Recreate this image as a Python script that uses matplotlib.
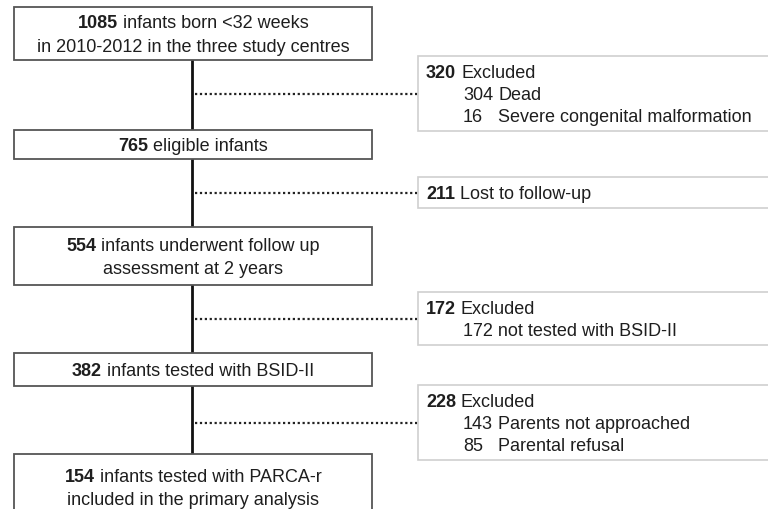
import matplotlib.pyplot as plt
from matplotlib.patches import Rectangle

plt.rcParams['font.family'] = ['Liberation Sans', 'DejaVu Sans']

# main flow boxes: bold count + rest of text (one list per line)
main_counts = [1085, 765, 554, 382, 154]
main_lines = [
    ["infants born <32 weeks", "in 2010-2012 in the three study centres"],
    ["eligible infants"],
    ["infants underwent follow up", "assessment at 2 years"],
    ["infants tested with BSID-II"],
    ["infants tested with PARCA-r", "included in the primary analysis"],
]

# side boxes: bold count, heading, sub-items (count, reason, in column?)
side_counts = [320, 211, 172, 228]
side_heads = ["Excluded", "Lost to follow-up", "Excluded", "Excluded"]
side_items = [
    [(304, "Dead", True), (16, "Severe congenital malformation", True)],
    [],
    [(172, "not tested with BSID-II", False)],
    [(143, "Parents not approached", True), (85, "Parental refusal", True)],
]

# layout (pixels)
main_x0, main_x1 = 14, 372
main_boxes = [(8, 61), (131, 160), (228, 286), (354, 387), (455, 530)]
side_x0, side_x1 = 418, 775
side_boxes = [(57, 132), (178, 209), (293, 346), (386, 461)]
spine_x = 192
line_h = 22
main_line_h = 23
fs = 13
dy = 1.0
txt_col = '#1e1e1e'

fig = plt.figure(figsize=(7.68, 5.10), dpi=100)
ax = fig.add_axes([0, 0, 1, 1])
ax.set_xlim(0, 768)
ax.set_ylim(510, 0)
ax.axis('off')
renderer = fig.canvas.get_renderer()


def text_width(s, weight):
    t = ax.text(0, 0, s, fontsize=fs, fontweight=weight)
    bb = t.get_window_extent(renderer)
    t.remove()
    return bb.width  # pixels == data units here


def bold_line(x, y, bold, rest, center=False):
    wb = text_width(bold + " ", 'bold')
    wr = text_width(rest, 'normal')
    if center:
        x = x - (wb + wr) / 2
    ax.text(x, y, bold, fontsize=fs, fontweight='bold', va='center', color=txt_col)
    ax.text(x + wb, y, rest, fontsize=fs, va='center', color=txt_col)


# spine and dotted branches
ax.plot([spine_x, spine_x], [main_boxes[0][1], main_boxes[-1][0]],
        color='#111111', lw=2.0, zorder=1)
for y0, y1 in side_boxes:
    ym = (y0 + y1) / 2
    ax.plot([spine_x + 3, side_x0], [ym, ym], color='#222222', lw=1.6,
            linestyle=(0, (1, 1.2)), zorder=1)

# main boxes
for (y0, y1), n, lines in zip(main_boxes, main_counts, main_lines):
    ax.add_patch(Rectangle((main_x0, y0), main_x1 - main_x0, y1 - y0,
                           facecolor='white', edgecolor='#555555', lw=1.3, zorder=2))
    if y1 <= 510:
        yc = (y0 + y1) / 2
        ys = [yc + (i - (len(lines) - 1) / 2) * main_line_h + dy for i in range(len(lines))]
    else:
        ys = [y0 + 23 + i * main_line_h for i in range(len(lines))]
    cx = (main_x0 + main_x1) / 2
    for i, (y, s) in enumerate(zip(ys, lines)):
        if i == 0:
            bold_line(cx, y, str(n), s, center=True)
        else:
            ax.text(cx, y, s, fontsize=fs, ha='center', va='center', color=txt_col)

# side boxes
for (y0, y1), n, head, items in zip(side_boxes, side_counts, side_heads, side_items):
    ax.add_patch(Rectangle((side_x0, y0), side_x1 - side_x0, y1 - y0,
                           facecolor='white', edgecolor='#cfcfcf', lw=1.2, zorder=2))
    nl = 1 + len(items)
    yc = (y0 + y1) / 2
    ys = [yc + (i - (nl - 1) / 2) * line_h + dy for i in range(nl)]
    bold_line(side_x0 + 8, ys[0], str(n), head)
    for y, (k, why, col) in zip(ys[1:], items):
        if col:
            ax.text(463, y, str(k), fontsize=fs, va='center', color=txt_col)
            ax.text(498, y, why, fontsize=fs, va='center', color=txt_col)
        else:
            ax.text(463, y, f"{k} {why}", fontsize=fs, va='center', color=txt_col)

fig.savefig('out.png', dpi=100)
